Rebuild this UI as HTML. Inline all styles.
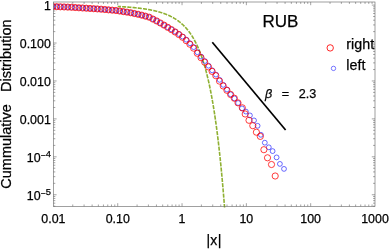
<!DOCTYPE html>
<html><head><meta charset="utf-8"><title>RUB</title>
<style>html,body{margin:0;padding:0;background:#fff;}body{width:389px;height:250px;overflow:hidden;}svg{display:block;}text{font-family:"Liberation Sans",sans-serif;fill:#000;stroke:#000;stroke-width:0.25px;}</style>
</head><body>
<svg width="389" height="250" viewBox="0 0 389 250">
<rect x="0" y="0" width="389" height="250" fill="#fff"/>
<defs><clipPath id="c"><rect x="53.4" y="2.0" width="321.6" height="204.4"/></clipPath><clipPath id="g"><rect x="53.4" y="2.0" width="321.6" height="205.6"/></clipPath></defs>
<path d="M72.76 206.4v-1.9M72.76 2.0v1.9M84.09 206.4v-1.9M84.09 2.0v1.9M92.12 206.4v-1.9M92.12 2.0v1.9M98.36 206.4v-1.9M98.36 2.0v1.9M103.45 206.4v-1.9M103.45 2.0v1.9M107.76 206.4v-1.9M107.76 2.0v1.9M111.49 206.4v-1.9M111.49 2.0v1.9M114.78 206.4v-1.9M114.78 2.0v1.9M117.72 206.4v-3.2M117.72 2.0v3.2M137.08 206.4v-1.9M137.08 2.0v1.9M148.41 206.4v-1.9M148.41 2.0v1.9M156.44 206.4v-1.9M156.44 2.0v1.9M162.68 206.4v-1.9M162.68 2.0v1.9M167.77 206.4v-1.9M167.77 2.0v1.9M172.08 206.4v-1.9M172.08 2.0v1.9M175.81 206.4v-1.9M175.81 2.0v1.9M179.10 206.4v-1.9M179.10 2.0v1.9M182.04 206.4v-3.2M182.04 2.0v3.2M201.40 206.4v-1.9M201.40 2.0v1.9M212.73 206.4v-1.9M212.73 2.0v1.9M220.76 206.4v-1.9M220.76 2.0v1.9M227.00 206.4v-1.9M227.00 2.0v1.9M232.09 206.4v-1.9M232.09 2.0v1.9M236.40 206.4v-1.9M236.40 2.0v1.9M240.13 206.4v-1.9M240.13 2.0v1.9M243.42 206.4v-1.9M243.42 2.0v1.9M246.36 206.4v-3.2M246.36 2.0v3.2M265.72 206.4v-1.9M265.72 2.0v1.9M277.05 206.4v-1.9M277.05 2.0v1.9M285.08 206.4v-1.9M285.08 2.0v1.9M291.32 206.4v-1.9M291.32 2.0v1.9M296.41 206.4v-1.9M296.41 2.0v1.9M300.72 206.4v-1.9M300.72 2.0v1.9M304.45 206.4v-1.9M304.45 2.0v1.9M307.74 206.4v-1.9M307.74 2.0v1.9M310.68 206.4v-3.2M310.68 2.0v3.2M330.04 206.4v-1.9M330.04 2.0v1.9M341.37 206.4v-1.9M341.37 2.0v1.9M349.40 206.4v-1.9M349.40 2.0v1.9M355.64 206.4v-1.9M355.64 2.0v1.9M360.73 206.4v-1.9M360.73 2.0v1.9M365.04 206.4v-1.9M365.04 2.0v1.9M368.77 206.4v-1.9M368.77 2.0v1.9M372.06 206.4v-1.9M372.06 2.0v1.9M53.4 206.17h1.9M375.0 206.17h-1.9M53.4 203.16h1.9M375.0 203.16h-1.9M53.4 200.63h1.9M375.0 200.63h-1.9M53.4 198.43h1.9M375.0 198.43h-1.9M53.4 196.49h1.9M375.0 196.49h-1.9M53.4 194.75h3.2M375.0 194.75h-3.2M53.4 183.33h1.9M375.0 183.33h-1.9M53.4 176.65h1.9M375.0 176.65h-1.9M53.4 171.91h1.9M375.0 171.91h-1.9M53.4 168.24h1.9M375.0 168.24h-1.9M53.4 165.23h1.9M375.0 165.23h-1.9M53.4 162.70h1.9M375.0 162.70h-1.9M53.4 160.50h1.9M375.0 160.50h-1.9M53.4 158.56h1.9M375.0 158.56h-1.9M53.4 156.82h3.2M375.0 156.82h-3.2M53.4 145.40h1.9M375.0 145.40h-1.9M53.4 138.72h1.9M375.0 138.72h-1.9M53.4 133.98h1.9M375.0 133.98h-1.9M53.4 130.31h1.9M375.0 130.31h-1.9M53.4 127.30h1.9M375.0 127.30h-1.9M53.4 124.77h1.9M375.0 124.77h-1.9M53.4 122.57h1.9M375.0 122.57h-1.9M53.4 120.63h1.9M375.0 120.63h-1.9M53.4 118.89h3.2M375.0 118.89h-3.2M53.4 107.47h1.9M375.0 107.47h-1.9M53.4 100.79h1.9M375.0 100.79h-1.9M53.4 96.05h1.9M375.0 96.05h-1.9M53.4 92.38h1.9M375.0 92.38h-1.9M53.4 89.37h1.9M375.0 89.37h-1.9M53.4 86.84h1.9M375.0 86.84h-1.9M53.4 84.64h1.9M375.0 84.64h-1.9M53.4 82.70h1.9M375.0 82.70h-1.9M53.4 80.96h3.2M375.0 80.96h-3.2M53.4 69.54h1.9M375.0 69.54h-1.9M53.4 62.86h1.9M375.0 62.86h-1.9M53.4 58.12h1.9M375.0 58.12h-1.9M53.4 54.45h1.9M375.0 54.45h-1.9M53.4 51.44h1.9M375.0 51.44h-1.9M53.4 48.91h1.9M375.0 48.91h-1.9M53.4 46.71h1.9M375.0 46.71h-1.9M53.4 44.77h1.9M375.0 44.77h-1.9M53.4 43.03h3.2M375.0 43.03h-3.2M53.4 31.61h1.9M375.0 31.61h-1.9M53.4 24.93h1.9M375.0 24.93h-1.9M53.4 20.19h1.9M375.0 20.19h-1.9M53.4 16.52h1.9M375.0 16.52h-1.9M53.4 13.51h1.9M375.0 13.51h-1.9M53.4 10.98h1.9M375.0 10.98h-1.9M53.4 8.78h1.9M375.0 8.78h-1.9M53.4 6.84h1.9M375.0 6.84h-1.9M53.4 5.10h3.2M375.0 5.10h-3.2" stroke="#666" stroke-width="0.6" fill="none"/>
<path d="M117.72 6.47 L117.99 6.48 L118.26 6.50 L118.53 6.51 L118.80 6.52 L119.07 6.54 L119.34 6.55 L119.61 6.57 L119.88 6.58 L120.15 6.60 L120.42 6.61 L120.69 6.63 L120.96 6.64 L121.23 6.66 L121.50 6.67 L121.78 6.69 L122.05 6.71 L122.32 6.72 L122.59 6.74 L122.86 6.76 L123.13 6.77 L123.40 6.79 L123.67 6.81 L123.94 6.83 L124.21 6.84 L124.48 6.86 L124.75 6.88 L125.02 6.90 L125.29 6.91 L125.56 6.93 L125.83 6.95 L126.10 6.97 L126.37 6.99 L126.64 7.01 L126.91 7.03 L127.18 7.05 L127.45 7.07 L127.72 7.09 L127.99 7.11 L128.26 7.13 L128.53 7.15 L128.80 7.17 L129.07 7.19 L129.34 7.22 L129.62 7.24 L129.89 7.26 L130.16 7.28 L130.43 7.30 L130.70 7.33 L130.97 7.35 L131.24 7.37 L131.51 7.40 L131.78 7.42 L132.05 7.44 L132.32 7.47 L132.59 7.49 L132.86 7.52 L133.13 7.54 L133.40 7.57 L133.67 7.59 L133.94 7.62 L134.21 7.65 L134.48 7.67 L134.75 7.70 L135.02 7.73 L135.29 7.75 L135.56 7.78 L135.83 7.81 L136.10 7.84 L136.37 7.87 L136.64 7.90 L136.91 7.92 L137.18 7.95 L137.46 7.98 L137.73 8.01 L138.00 8.05 L138.27 8.08 L138.54 8.11 L138.81 8.14 L139.08 8.17 L139.35 8.20 L139.62 8.24 L139.89 8.27 L140.16 8.30 L140.43 8.34 L140.70 8.37 L140.97 8.41 L141.24 8.44 L141.51 8.48 L141.78 8.51 L142.05 8.55 L142.32 8.58 L142.59 8.62 L142.86 8.66 L143.13 8.70 L143.40 8.74 L143.67 8.77 L143.94 8.81 L144.21 8.85 L144.48 8.89 L144.75 8.93 L145.02 8.97 L145.30 9.02 L145.57 9.06 L145.84 9.10 L146.11 9.14 L146.38 9.19 L146.65 9.23 L146.92 9.28 L147.19 9.32 L147.46 9.37 L147.73 9.41 L148.00 9.46 L148.27 9.51 L148.54 9.55 L148.81 9.60 L149.08 9.65 L149.35 9.70 L149.62 9.75 L149.89 9.80 L150.16 9.85 L150.43 9.90 L150.70 9.96 L150.97 10.01 L151.24 10.06 L151.51 10.12 L151.78 10.17 L152.05 10.23 L152.32 10.28 L152.59 10.34 L152.86 10.40 L153.14 10.46 L153.41 10.52 L153.68 10.58 L153.95 10.64 L154.22 10.70 L154.49 10.76 L154.76 10.82 L155.03 10.89 L155.30 10.95 L155.57 11.02 L155.84 11.08 L156.11 11.15 L156.38 11.22 L156.65 11.28 L156.92 11.35 L157.19 11.42 L157.46 11.49 L157.73 11.57 L158.00 11.64 L158.27 11.71 L158.54 11.79 L158.81 11.86 L159.08 11.94 L159.35 12.02 L159.62 12.10 L159.89 12.17 L160.16 12.25 L160.43 12.34 L160.70 12.42 L160.97 12.50 L161.25 12.59 L161.52 12.67 L161.79 12.76 L162.06 12.85 L162.33 12.94 L162.60 13.03 L162.87 13.12 L163.14 13.21 L163.41 13.30 L163.68 13.40 L163.95 13.49 L164.22 13.59 L164.49 13.69 L164.76 13.79 L165.03 13.89 L165.30 13.99 L165.57 14.10 L165.84 14.20 L166.11 14.31 L166.38 14.42 L166.65 14.52 L166.92 14.64 L167.19 14.75 L167.46 14.86 L167.73 14.98 L168.00 15.09 L168.27 15.21 L168.54 15.33 L168.81 15.45 L169.09 15.58 L169.36 15.70 L169.63 15.83 L169.90 15.96 L170.17 16.09 L170.44 16.22 L170.71 16.35 L170.98 16.49 L171.25 16.62 L171.52 16.76 L171.79 16.90 L172.06 17.05 L172.33 17.19 L172.60 17.34 L172.87 17.49 L173.14 17.64 L173.41 17.79 L173.68 17.95 L173.95 18.10 L174.22 18.26 L174.49 18.43 L174.76 18.59 L175.03 18.76 L175.30 18.92 L175.57 19.10 L175.84 19.27 L176.11 19.45 L176.38 19.62 L176.65 19.80 L176.93 19.99 L177.20 20.17 L177.47 20.36 L177.74 20.55 L178.01 20.75 L178.28 20.95 L178.55 21.15 L178.82 21.35 L179.09 21.56 L179.36 21.76 L179.63 21.98 L179.90 22.19 L180.17 22.41 L180.44 22.63 L180.71 22.85 L180.98 23.08 L181.25 23.31 L181.52 23.55 L181.79 23.79 L182.06 24.03 L182.33 24.27 L182.60 24.52 L182.87 24.78 L183.14 25.03 L183.41 25.29 L183.68 25.56 L183.95 25.82 L184.22 26.10 L184.49 26.37 L184.77 26.65 L185.04 26.94 L185.31 27.23 L185.58 27.52 L185.85 27.82 L186.12 28.12 L186.39 28.43 L186.66 28.74 L186.93 29.06 L187.20 29.38 L187.47 29.70 L187.74 30.04 L188.01 30.37 L188.28 30.71 L188.55 31.06 L188.82 31.41 L189.09 31.77 L189.36 32.14 L189.63 32.51 L189.90 32.88 L190.17 33.26 L190.44 33.65 L190.71 34.04 L190.98 34.44 L191.25 34.85 L191.52 35.26 L191.79 35.68 L192.06 36.11 L192.33 36.54 L192.61 36.98 L192.88 37.43 L193.15 37.88 L193.42 38.34 L193.69 38.81 L193.96 39.29 L194.23 39.77 L194.50 40.26 L194.77 40.76 L195.04 41.27 L195.31 41.79 L195.58 42.31 L195.85 42.85 L196.12 43.39 L196.39 43.94 L196.66 44.50 L196.93 45.07 L197.20 45.65 L197.47 46.24 L197.74 46.84 L198.01 47.44 L198.28 48.06 L198.55 48.69 L198.82 49.33 L199.09 49.98 L199.36 50.64 L199.63 51.32 L199.90 52.00 L200.17 52.69 L200.45 53.40 L200.72 54.12 L200.99 54.85 L201.26 55.59 L201.53 56.35 L201.80 57.12 L202.07 57.90 L202.34 58.70 L202.61 59.51 L202.88 60.33 L203.15 61.17 L203.42 62.02 L203.69 62.89 L203.96 63.77 L204.23 64.66 L204.50 65.58 L204.77 66.50 L205.04 67.45 L205.31 68.41 L205.58 69.39 L205.85 70.38 L206.12 71.39 L206.39 72.42 L206.66 73.47 L206.93 74.53 L207.20 75.62 L207.47 76.72 L207.74 77.85 L208.01 78.99 L208.29 80.15 L208.56 81.34 L208.83 82.54 L209.10 83.77 L209.37 85.01 L209.64 86.28 L209.91 87.58 L210.18 88.89 L210.45 90.23 L210.72 91.60 L210.99 92.98 L211.26 94.40 L211.53 95.83 L211.80 97.30 L212.07 98.79 L212.34 100.30 L212.61 101.85 L212.88 103.42 L213.15 105.02 L213.42 106.65 L213.69 108.31 L213.96 110.00 L214.23 111.72 L214.50 113.47 L214.77 115.25 L215.04 117.07 L215.31 118.91 L215.58 120.80 L215.85 122.71 L216.13 124.66 L216.40 126.65 L216.67 128.67 L216.94 130.74 L217.21 132.83 L217.48 134.97 L217.75 137.15 L218.02 139.36 L218.29 141.62 L218.56 143.92 L218.83 146.26 L219.10 148.64 L219.37 151.07 L219.64 153.55 L219.91 156.07 L220.18 158.63 L220.45 161.25 L220.72 163.91 L220.99 166.62 L221.26 169.38 L221.53 172.19 L221.80 175.06 L222.07 177.98 L222.34 180.95 L222.61 183.98 L222.88 187.07 L223.15 190.21 L223.42 193.41 L223.69 196.68 L223.97 200.00 L224.24 203.38 L224.51 206.83 L224.78 210.35 L225.05 213.93 L225.32 217.57 L225.59 221.29 L225.86 225.08" stroke="#8fb032" stroke-width="1.6" stroke-dasharray="4.1 1.14" stroke-dashoffset="0.87" fill="none" clip-path="url(#g)"/>
<g fill="none" stroke="#0000ff" stroke-width="0.58" clip-path="url(#c)">
<circle cx="238.10" cy="103.00" r="2.42"/>
<circle cx="234.40" cy="98.35" r="2.42"/>
<circle cx="230.70" cy="94.30" r="2.42"/>
<circle cx="227.00" cy="89.53" r="2.42"/>
<circle cx="223.30" cy="84.84" r="2.42"/>
<circle cx="219.60" cy="79.83" r="2.42"/>
<circle cx="215.90" cy="74.61" r="2.42"/>
<circle cx="212.20" cy="70.35" r="2.42"/>
<circle cx="208.50" cy="65.69" r="2.42"/>
<circle cx="204.80" cy="61.08" r="2.42"/>
<circle cx="201.10" cy="56.61" r="2.42"/>
<circle cx="197.40" cy="52.23" r="2.42"/>
<circle cx="193.70" cy="47.12" r="2.42"/>
<circle cx="190.00" cy="43.30" r="2.42"/>
<circle cx="186.30" cy="39.70" r="2.42"/>
<circle cx="182.60" cy="36.58" r="2.42"/>
<circle cx="178.90" cy="34.05" r="2.42"/>
<circle cx="175.20" cy="31.67" r="2.42"/>
<circle cx="171.50" cy="29.45" r="2.42"/>
<circle cx="167.80" cy="27.30" r="2.42"/>
<circle cx="164.10" cy="25.17" r="2.42"/>
<circle cx="160.40" cy="23.06" r="2.42"/>
<circle cx="156.70" cy="21.00" r="2.42"/>
<circle cx="153.00" cy="19.12" r="2.42"/>
<circle cx="149.30" cy="17.25" r="2.42"/>
<circle cx="145.60" cy="16.19" r="2.42"/>
<circle cx="141.90" cy="15.21" r="2.42"/>
<circle cx="138.20" cy="14.32" r="2.42"/>
<circle cx="134.50" cy="13.54" r="2.42"/>
<circle cx="130.80" cy="12.77" r="2.42"/>
<circle cx="127.10" cy="12.16" r="2.42"/>
<circle cx="123.40" cy="11.61" r="2.42"/>
<circle cx="119.70" cy="11.05" r="2.42"/>
<circle cx="116.00" cy="10.50" r="2.42"/>
<circle cx="112.30" cy="10.18" r="2.42"/>
<circle cx="108.60" cy="9.85" r="2.42"/>
<circle cx="104.90" cy="9.53" r="2.42"/>
<circle cx="101.20" cy="9.20" r="2.42"/>
<circle cx="97.50" cy="8.94" r="2.42"/>
<circle cx="93.80" cy="8.70" r="2.42"/>
<circle cx="90.10" cy="8.46" r="2.42"/>
<circle cx="86.40" cy="8.23" r="2.42"/>
<circle cx="82.70" cy="7.99" r="2.42"/>
<circle cx="79.00" cy="7.76" r="2.42"/>
<circle cx="75.30" cy="7.53" r="2.42"/>
<circle cx="71.60" cy="7.30" r="2.42"/>
<circle cx="67.90" cy="7.12" r="2.42"/>
<circle cx="64.20" cy="6.98" r="2.42"/>
<circle cx="60.50" cy="6.84" r="2.42"/>
<circle cx="56.80" cy="6.70" r="2.42"/>
<circle cx="53.10" cy="6.55" r="2.42"/>
<circle cx="49.40" cy="6.55" r="2.42"/>
<circle cx="242.00" cy="108.40" r="2.42"/>
<circle cx="245.90" cy="111.60" r="2.42"/>
<circle cx="249.90" cy="115.40" r="2.42"/>
<circle cx="254.00" cy="120.40" r="2.42"/>
<circle cx="257.60" cy="125.80" r="2.42"/>
<circle cx="260.90" cy="134.80" r="2.42"/>
<circle cx="264.80" cy="142.70" r="2.42"/>
<circle cx="268.80" cy="147.30" r="2.42"/>
<circle cx="272.60" cy="151.10" r="2.42"/>
<circle cx="276.60" cy="157.40" r="2.42"/>
<circle cx="279.90" cy="163.90" r="2.42"/>
<circle cx="284.00" cy="168.90" r="2.42"/>
</g>
<g fill="none" stroke="#ff0000" stroke-width="0.95" stroke-opacity="0.8" clip-path="url(#c)">
<circle cx="238.00" cy="102.87" r="3.1"/>
<circle cx="234.30" cy="98.23" r="3.1"/>
<circle cx="230.60" cy="94.50" r="3.1"/>
<circle cx="226.90" cy="90.28" r="3.1"/>
<circle cx="223.20" cy="86.00" r="3.1"/>
<circle cx="219.50" cy="81.13" r="3.1"/>
<circle cx="215.80" cy="75.68" r="3.1"/>
<circle cx="212.10" cy="71.38" r="3.1"/>
<circle cx="208.40" cy="66.89" r="3.1"/>
<circle cx="204.70" cy="62.17" r="3.1"/>
<circle cx="201.00" cy="57.69" r="3.1"/>
<circle cx="197.30" cy="53.29" r="3.1"/>
<circle cx="193.60" cy="48.15" r="3.1"/>
<circle cx="189.90" cy="44.22" r="3.1"/>
<circle cx="186.20" cy="40.62" r="3.1"/>
<circle cx="182.50" cy="37.24" r="3.1"/>
<circle cx="178.80" cy="34.54" r="3.1"/>
<circle cx="175.10" cy="31.99" r="3.1"/>
<circle cx="171.40" cy="29.63" r="3.1"/>
<circle cx="167.70" cy="27.34" r="3.1"/>
<circle cx="164.00" cy="25.11" r="3.1"/>
<circle cx="160.30" cy="23.00" r="3.1"/>
<circle cx="156.60" cy="20.94" r="3.1"/>
<circle cx="152.90" cy="19.07" r="3.1"/>
<circle cx="149.20" cy="17.20" r="3.1"/>
<circle cx="145.50" cy="16.17" r="3.1"/>
<circle cx="141.80" cy="15.18" r="3.1"/>
<circle cx="138.10" cy="14.30" r="3.1"/>
<circle cx="134.40" cy="13.52" r="3.1"/>
<circle cx="130.70" cy="12.75" r="3.1"/>
<circle cx="127.00" cy="12.15" r="3.1"/>
<circle cx="123.30" cy="11.59" r="3.1"/>
<circle cx="119.60" cy="11.04" r="3.1"/>
<circle cx="115.90" cy="10.49" r="3.1"/>
<circle cx="112.20" cy="10.17" r="3.1"/>
<circle cx="108.50" cy="9.84" r="3.1"/>
<circle cx="104.80" cy="9.52" r="3.1"/>
<circle cx="101.10" cy="9.20" r="3.1"/>
<circle cx="97.40" cy="8.93" r="3.1"/>
<circle cx="93.70" cy="8.69" r="3.1"/>
<circle cx="90.00" cy="8.46" r="3.1"/>
<circle cx="86.30" cy="8.22" r="3.1"/>
<circle cx="82.60" cy="7.99" r="3.1"/>
<circle cx="78.90" cy="7.76" r="3.1"/>
<circle cx="75.20" cy="7.52" r="3.1"/>
<circle cx="71.50" cy="7.29" r="3.1"/>
<circle cx="67.80" cy="7.12" r="3.1"/>
<circle cx="64.10" cy="6.97" r="3.1"/>
<circle cx="60.40" cy="6.83" r="3.1"/>
<circle cx="56.70" cy="6.69" r="3.1"/>
<circle cx="53.00" cy="6.55" r="3.1"/>
<circle cx="49.30" cy="6.55" r="3.1"/>
<circle cx="242.30" cy="107.80" r="3.1"/>
<circle cx="245.20" cy="114.00" r="3.1"/>
<circle cx="249.00" cy="120.30" r="3.1"/>
<circle cx="252.80" cy="125.70" r="3.1"/>
<circle cx="256.40" cy="132.20" r="3.1"/>
<circle cx="260.30" cy="136.40" r="3.1"/>
<circle cx="263.90" cy="149.70" r="3.1"/>
<circle cx="267.50" cy="157.80" r="3.1"/>
<circle cx="271.50" cy="164.50" r="3.1"/>
<circle cx="275.20" cy="176.00" r="3.1"/>
</g>
<rect x="53.4" y="2.0" width="321.6" height="204.4" fill="none" stroke="#666" stroke-width="0.62"/>
<circle cx="330.2" cy="47.9" r="3.2" fill="none" stroke="#ff0000" stroke-width="0.85"/>
<circle cx="333.5" cy="68.4" r="2.2" fill="none" stroke="#0000ff" stroke-width="0.52"/>
<g style="filter:grayscale(1)">
<path d="M212.3 42.3L285.6 130.0" stroke="#000" stroke-width="1.7" fill="none"/>
<text x="346.3" y="48.7" font-size="14.3">right</text>
<text x="346.3" y="70.3" font-size="14.3">left</text>
<text x="280.4" y="26.5" font-size="17" text-anchor="middle">RUB</text>
<text x="265.0" y="98" font-size="12.6" font-style="italic">β</text>
<text x="281.8" y="98" font-size="12.6">=</text>
<text x="298.8" y="98" font-size="12.6">2.3</text>
<text x="53.40" y="222.8" font-size="12.4" text-anchor="middle">0.01</text>
<text x="117.72" y="222.8" font-size="12.4" text-anchor="middle">0.10</text>
<text x="182.04" y="222.8" font-size="12.4" text-anchor="middle">1</text>
<text x="246.36" y="222.8" font-size="12.4" text-anchor="middle">10</text>
<text x="310.68" y="222.8" font-size="12.4" text-anchor="middle">100</text>
<text x="375.00" y="222.8" font-size="12.4" text-anchor="middle">1000</text>
<text x="50.8" y="9.90" font-size="12.4" text-anchor="end">1</text>
<text x="50.8" y="47.83" font-size="12.4" text-anchor="end">0.100</text>
<text x="50.8" y="85.76" font-size="12.4" text-anchor="end">0.010</text>
<text x="50.8" y="123.69" font-size="12.4" text-anchor="end">0.001</text>
<text x="50.8" y="161.72" font-size="12.4" text-anchor="end">10<tspan font-size="8.6" dy="-3.4">−</tspan><tspan font-size="9.3" dy="-1.4">4</tspan></text>
<text x="50.8" y="199.65" font-size="12.4" text-anchor="end">10<tspan font-size="8.6" dy="-3.4">−</tspan><tspan font-size="9.3" dy="-1.4">5</tspan></text>
<text x="214" y="245.4" font-size="14" text-anchor="middle" letter-spacing="0.3">|x|</text>
<text transform="translate(11.2,188.7) rotate(-90)" font-size="14.5">Cummulative</text>
<text transform="translate(11.2,92.0) rotate(-90)" font-size="14.5">Distribution</text>
</g>
</svg></body></html>
